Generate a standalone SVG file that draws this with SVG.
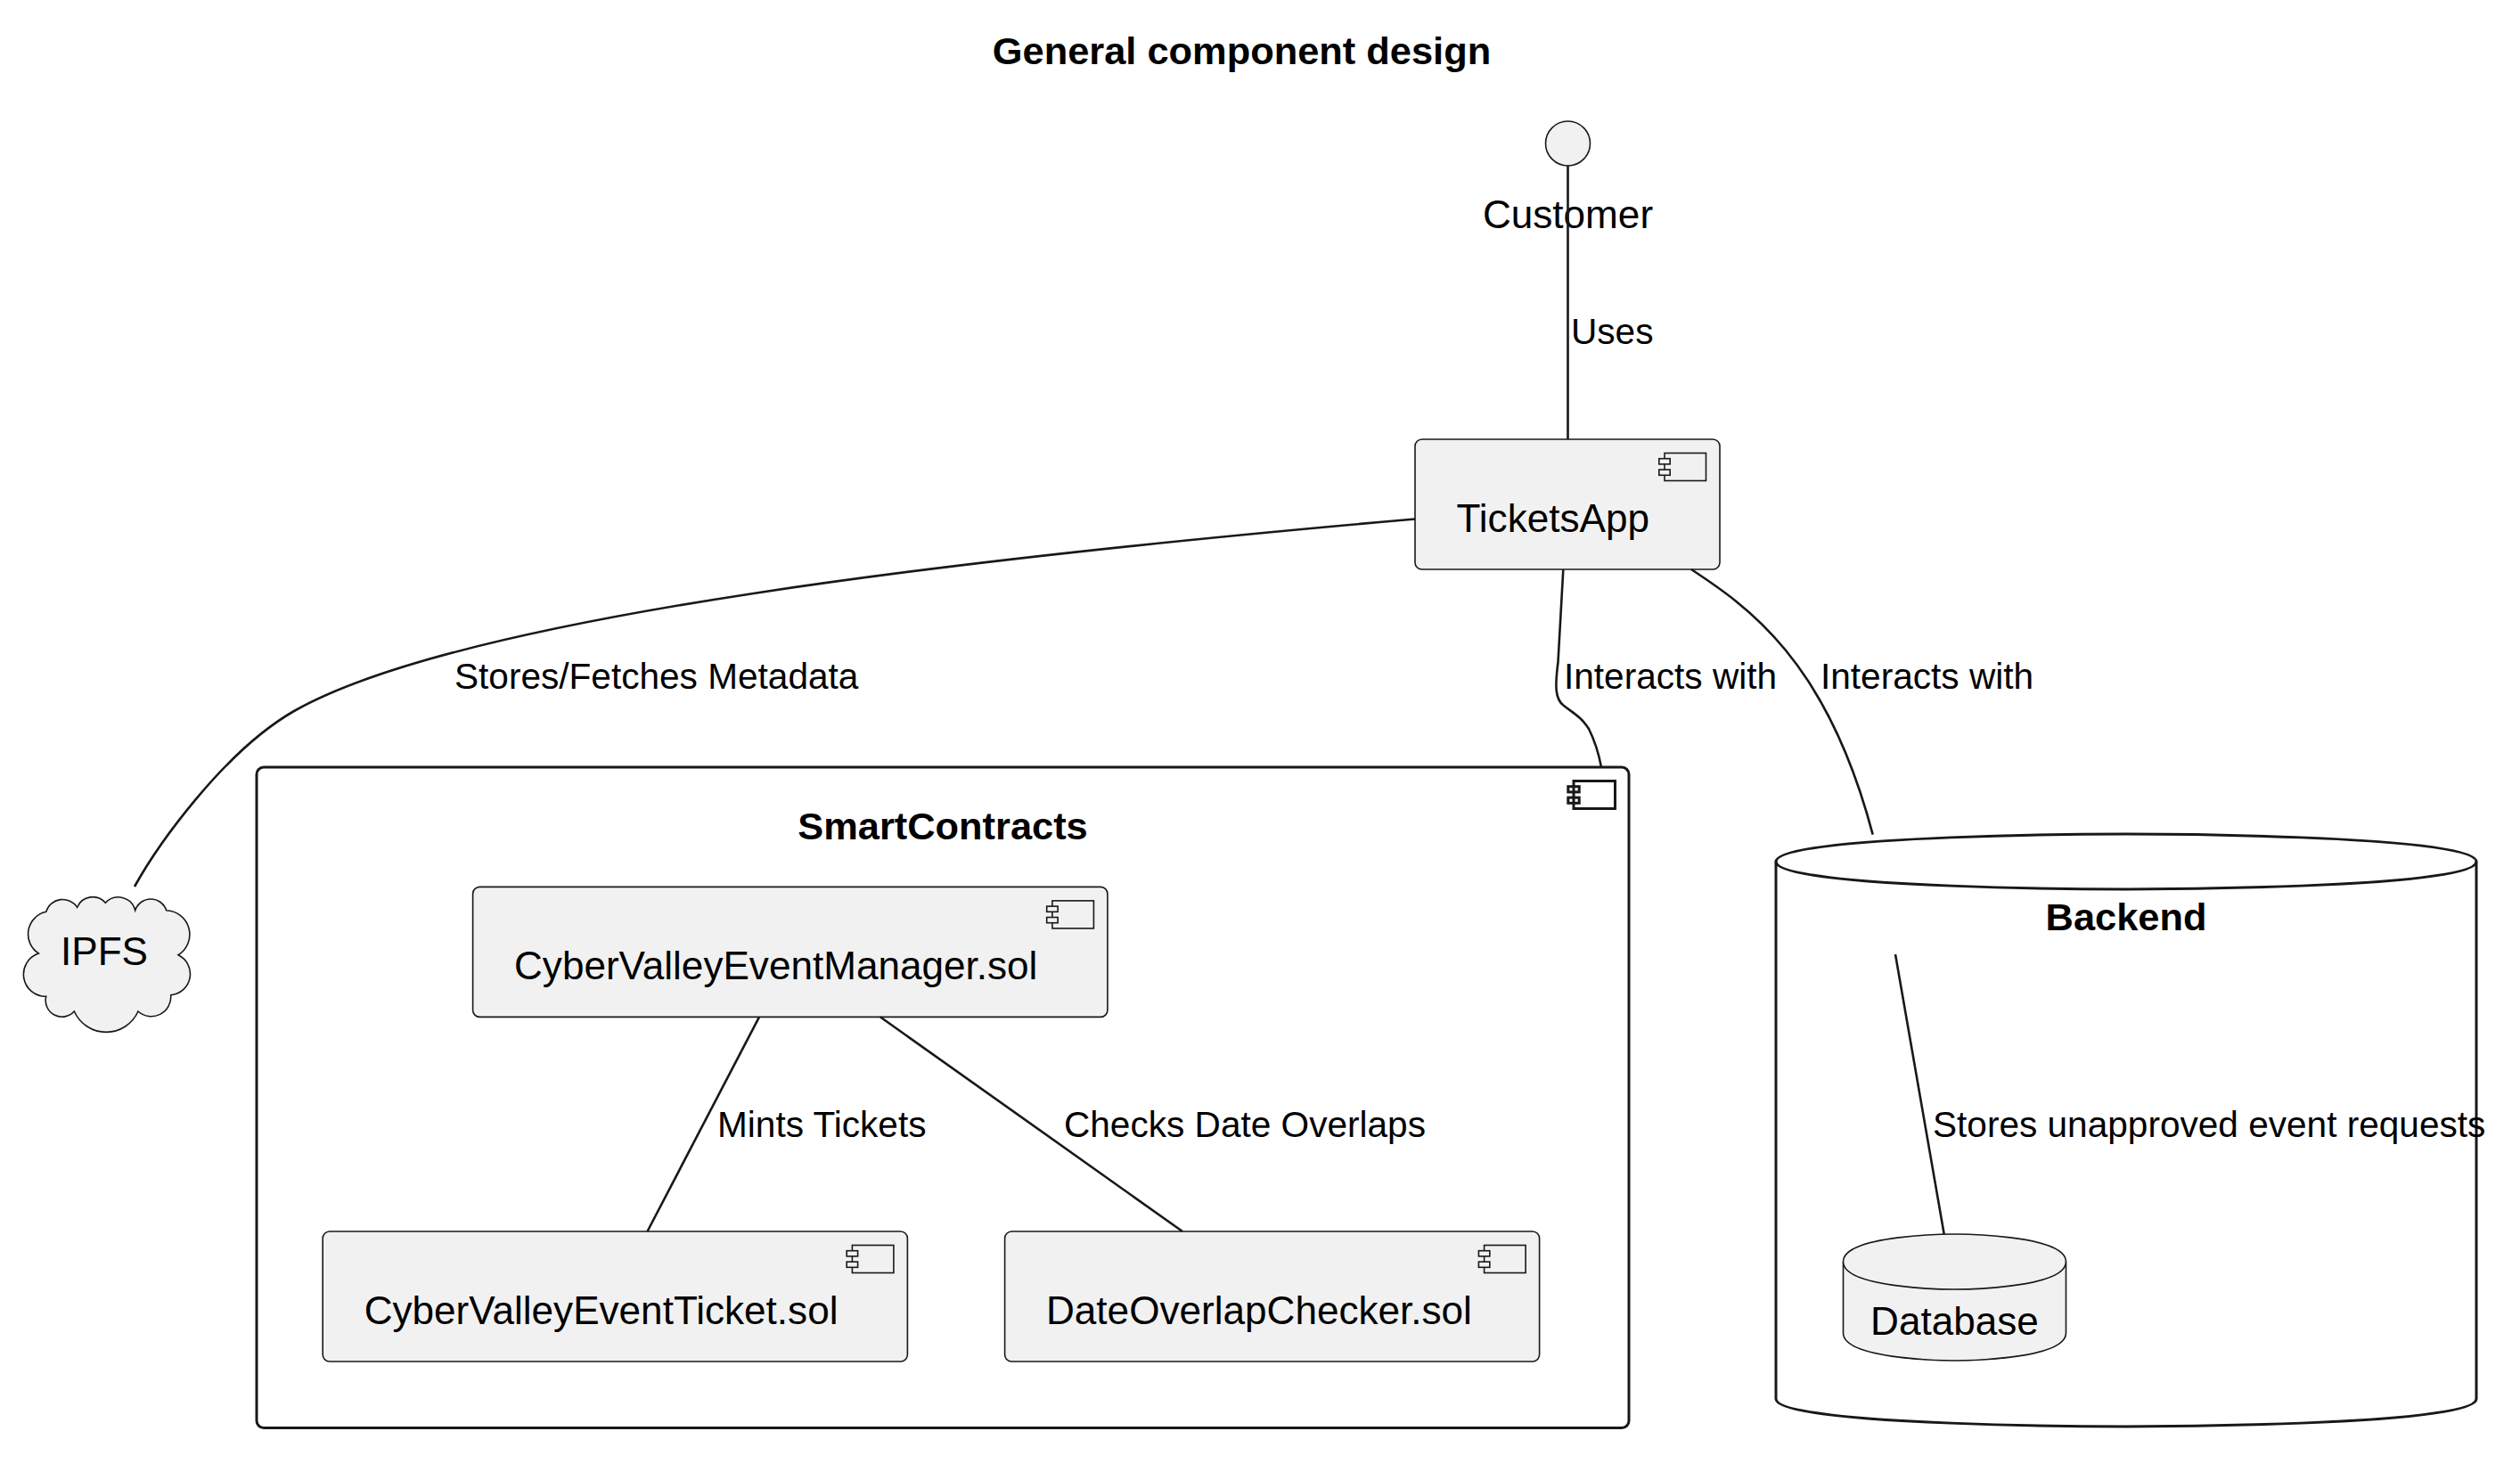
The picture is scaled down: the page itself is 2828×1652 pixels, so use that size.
<svg xmlns="http://www.w3.org/2000/svg" xmlns:xlink="http://www.w3.org/1999/xlink" width="2828" height="1652" viewBox="0 0 2828 1652">
<style>
text{font-family:"Liberation Sans",Arial,Helvetica,sans-serif;fill:#000}
.t{font-size:44.1px}
.l{font-size:40.6px}
.b{font-size:43.4px;font-weight:bold}
.box{fill:#F1F1F1;stroke:#181818;stroke-width:1.6}
.cont{fill:none;stroke:#181818;stroke-width:3}
.edge{fill:none;stroke:#181818;stroke-width:2.6}
.ico{fill:#F1F1F1;stroke:#181818;stroke-width:1.6}
.icoT{fill:none;stroke:#181818;stroke-width:3}
</style>
<defs>
<g id="icon">
<rect class="ico" x="-62" y="15.5" width="46.5" height="31"/>
<rect class="ico" x="-68.2" y="21.7" width="12.4" height="6.2"/>
<rect class="ico" x="-68.2" y="34.1" width="12.4" height="6.2"/>
</g>
<g id="iconT">
<rect class="icoT" x="-62" y="15.5" width="46.5" height="31"/>
<rect class="icoT" x="-68.2" y="21.7" width="12.4" height="6.2" fill="#fff"/>
<rect class="icoT" x="-68.2" y="34.1" width="12.4" height="6.2" fill="#fff"/>
</g>
</defs>
<rect width="2828" height="1652" fill="#fff"/>
<text class="b" x="1393.5" y="72" text-anchor="middle">General component design</text>

<g id="SmartContracts">
<rect class="cont" x="288" y="861" width="1540" height="741.5" rx="8"/>
<use xlink:href="#iconT" x="1828" y="861"/>
<text class="b" x="1058" y="942" text-anchor="middle">SmartContracts</text>
</g>

<g id="Backend">
<path class="cont" fill="#fff" d="M1993,967 C1993,936 2386,936 2386,936 C2386,936 2779,936 2779,967 L2779,1570 C2779,1601 2386,1601 2386,1601 C2386,1601 1993,1601 1993,1570 Z"/>
<path class="cont" d="M1993,967 C1993,998 2386,998 2386,998 C2386,998 2779,998 2779,967"/>
<text class="b" x="2386" y="1044" text-anchor="middle">Backend</text>
</g>

<g id="Customer">
<circle class="box" cx="1759.5" cy="161" r="25"/>
<text class="t" x="1759.5" y="256" text-anchor="middle">Customer</text>
</g>

<g id="TicketsApp">
<rect class="box" x="1588" y="493" width="342" height="146" rx="7.75"/>
<use xlink:href="#icon" x="1930" y="493"/>
<text class="t" x="1634.5" y="597">TicketsApp</text>
</g>

<g id="IPFS">
<path class="box" d="M51.7,1023.3 A19.5,19.5 0 0 1 86.7,1018.3 A18.7,18.7 0 0 1 118.3,1013.3 A19.5,19.5 0 0 1 151.7,1021.7 A18.4,18.4 0 0 1 186.7,1021.7 A27,27 0 0 1 200,1071.7 A23.7,23.7 0 0 1 191.7,1116.7 A22,22 0 0 1 155,1135 A39.2,39.2 0 0 1 83.3,1135 A18.4,18.4 0 0 1 51.7,1118.3 A24.8,24.8 0 0 1 43.3,1070 A25.7,25.7 0 0 1 51.7,1023.3 Z"/>
<text class="t" x="68" y="1083">IPFS</text>
</g>

<g id="CyberValleyEventManager">
<rect class="box" x="530.6" y="995.4" width="712.3" height="146" rx="7.75"/>
<use xlink:href="#icon" x="1242.9" y="995.4"/>
<text class="t" x="577" y="1099">CyberValleyEventManager.sol</text>
</g>

<g id="CyberValleyEventTicket">
<rect class="box" x="362.2" y="1382" width="656.2" height="146" rx="7.75"/>
<use xlink:href="#icon" x="1018.4" y="1382"/>
<text class="t" x="408.7" y="1486">CyberValleyEventTicket.sol</text>
</g>

<g id="DateOverlapChecker">
<rect class="box" x="1127.6" y="1382" width="600" height="146" rx="7.75"/>
<use xlink:href="#icon" x="1727.6" y="1382"/>
<text class="t" x="1174" y="1486">DateOverlapChecker.sol</text>
</g>

<g id="Database">
<path class="box" d="M2068.5,1416 C2068.5,1385 2193.5,1385 2193.5,1385 C2193.5,1385 2318.5,1385 2318.5,1416 L2318.5,1496 C2318.5,1527 2193.5,1527 2193.5,1527 C2193.5,1527 2068.5,1527 2068.5,1496 Z"/>
<path class="box" fill="none" d="M2068.5,1416 C2068.5,1447 2193.5,1447 2193.5,1447 C2193.5,1447 2318.5,1447 2318.5,1416"/>
<text class="t" x="2193.5" y="1498" text-anchor="middle">Database</text>
</g>

<g id="connectors">
<path class="edge" d="M1759.5,186 L1759.5,493"/>
<text class="l" x="1763" y="386">Uses</text>
<path class="edge" d="M1588,582.5 C1100,625 520,690 330,798 C250,844 176,950 151,995"/>
<text class="l" x="510" y="773">Stores/Fetches Metadata</text>
<path class="edge" d="M1754.3,639.3 L1748.5,743 C1745,770 1745,785 1755,792 C1765,800 1775,805 1783,818 C1790,832 1794,845 1797,861"/>
<text class="l" x="1755" y="773">Interacts with</text>
<path class="edge" d="M1898,639 C1960,680 2050,740 2101.7,936.7"/>
<text class="l" x="2043" y="773">Interacts with</text>
<path class="edge" d="M852,1141.3 L726.5,1382"/>
<text class="l" x="805" y="1276">Mints Tickets</text>
<path class="edge" d="M987.8,1141.3 L1327,1382"/>
<text class="l" x="1194" y="1276">Checks Date Overlaps</text>
<path class="edge" d="M2127,1071 L2181.7,1385"/>
<text class="l" x="2169" y="1276">Stores unapproved event requests</text>
</g>
</svg>
